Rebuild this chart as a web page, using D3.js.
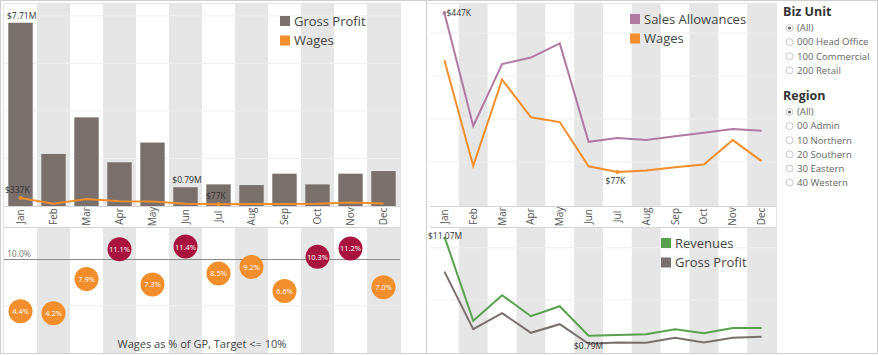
<!DOCTYPE html>
<html><head><meta charset="utf-8">
<script src="https://cdn.jsdelivr.net/npm/d3@7"></script>
<style>
body{margin:0;background:#fff;}
svg{display:block;font-family:"Open Sans",sans-serif;}
</style></head>
<body><svg id="c" width="878" height="355"></svg>
<script>
const months = ["Jan","Feb","Mar","Apr","May","Jun","Jul","Aug","Sep","Oct","Nov","Dec"];
const grossProfit = [7.71, 2.19, 3.73, 1.84, 2.67, 0.79, 0.91, 0.88, 1.36, 0.91, 1.36, 1.47]; // $M
const wages = [337, 91, 292, 204, 193, 90, 77, 80, 88, 94, 151, 102]; // $K
const salesAllowances = [447, 184, 328, 343, 376, 147, 156, 151, 160, 168, 177, 173]; // $K
const revenues = [11.07, 3.0, 5.45, 3.43, 4.39, 1.57, 1.63, 1.70, 2.18, 1.80, 2.31, 2.31]; // $M
const wagesPct = [4.4, 4.2, 7.9, 11.1, 7.3, 11.4, 8.5, 9.2, 6.6, 10.3, 11.2, 7.0];
const bizUnits = ["(All)","000 Head Office","100 Commercial","200 Retail"];
const regions = ["(All)","00 Admin","10 Northern","20 Southern","30 Eastern","40 Western"];

const C = {gp:"#79706e", wages:"#f28e2b", red:"#a9133f", sa:"#b07aa1", rev:"#59a14f", band:"#e6e6e6", grid:"#efefef", text:"#555"};
const svg = d3.select("#c");

// outer border
svg.append("rect").attr("x",0.5).attr("y",0.5).attr("width",877).attr("height",353).attr("fill","none").attr("stroke","#cfcfcf");

function bands(g, x, y0, y1){
  g.selectAll(null).data(months.filter((m,i)=>i%2===1)).enter().append("rect")
   .attr("x",d=>x(d)).attr("width",x.bandwidth()).attr("y",y0).attr("height",y1-y0).attr("fill",C.band);
}
function grid(g, x, y, ticks){
  g.selectAll(null).data(ticks).enter().append("line")
   .attr("x1",x.range()[0]).attr("x2",x.range()[1]).attr("y1",d=>y(d)).attr("y2",d=>y(d))
   .attr("stroke",C.grid).attr("stroke-width",1);
}
function monthAxis(g, x, yTop, yBot){
  g.append("line").attr("x1",x.range()[0]).attr("x2",x.range()[1]).attr("y1",yTop+0.5).attr("y2",yTop+0.5).attr("stroke","#d4d4d4");
  g.append("line").attr("x1",x.range()[0]).attr("x2",x.range()[1]).attr("y1",yBot+0.5).attr("y2",yBot+0.5).attr("stroke","#d4d4d4");
  g.selectAll(null).data(months).enter().append("text")
   .attr("transform",d=>`translate(${x(d)+x.bandwidth()/2+3.5},${(yTop+yBot)/2}) rotate(-90)`)
   .attr("text-anchor","middle").attr("font-size",10).attr("fill",C.text).text(d=>d);
}
function legend(g, x, y, items){
  items.forEach((it,i)=>{
    g.append("rect").attr("x",x).attr("y",y+i*19.5-5).attr("width",10).attr("height",10).attr("fill",it[1]);
    g.append("text").attr("x",x+14).attr("y",y+i*19.5+4.5).attr("font-size",13).attr("fill","#444").text(it[0]);
  });
}
function lbl(g,x,y,t,anchor){
  g.append("text").attr("x",x).attr("y",y).attr("font-size",8.5).attr("fill","#333").attr("text-anchor",anchor||"start").text(t);
}

// ===== LEFT TOP: Gross Profit bars + Wages line =====
const xL = d3.scaleBand().domain(months).range([4,400]).padding(0);
const yL = d3.scaleLinear().domain([0,8.5]).range([206,4]);
const gL = svg.append("g");
bands(gL, xL, 4, 206);
grid(gL, xL, yL, [2,4,6,8]);
const bw = xL.bandwidth()*0.74;
gL.selectAll(null).data(months).enter().append("rect")
  .attr("x",(d)=>xL(d)+(xL.bandwidth()-bw)/2).attr("width",bw)
  .attr("y",(d,i)=>yL(grossProfit[i])).attr("height",(d,i)=>yL(0)-yL(grossProfit[i]))
  .attr("fill",C.gp);
const lineL = d3.line().x((d,i)=>xL(months[i])+xL.bandwidth()/2).y(d=>yL(d/1000));
gL.append("path").datum(wages).attr("d",lineL).attr("fill","none").attr("stroke",C.wages).attr("stroke-width",2);
gL.append("circle").attr("cx",xL("Jan")+xL.bandwidth()/2).attr("cy",yL(wages[0]/1000)).attr("r",2).attr("fill",C.wages);
gL.append("circle").attr("cx",xL("Jul")+xL.bandwidth()/2).attr("cy",yL(wages[6]/1000)).attr("r",2).attr("fill",C.wages);
lbl(gL, xL("Jan")+3, yL(grossProfit[0])-4, "$7.71M");
lbl(gL, xL("Jan")+1, yL(wages[0]/1000)-5, "$337K");
lbl(gL, xL("Jun")+(xL.bandwidth()-bw)/2-1, yL(grossProfit[5])-4, "$0.79M");
lbl(gL, xL("Jul")+4, yL(wages[6]/1000)-5, "$77K");
legend(gL, 280, 21, [["Gross Profit",C.gp],["Wages",C.wages]]);
monthAxis(gL, xL, 206, 227);

// ===== LEFT BOTTOM: Wages as % of GP =====
const yP = d3.scaleLinear().domain([0,13.3]).range([352,229]);
const gP = svg.append("g");
bands(gP, xL, 228, 353);
grid(gP, xL, yP, [5]);
gP.append("line").attr("x1",4).attr("x2",400).attr("y1",yP(10)).attr("y2",yP(10)).attr("stroke","#8a8a8a").attr("stroke-width",1);
gP.append("text").attr("x",7).attr("y",yP(10)-3).attr("font-size",8.5).attr("fill","#777").text("10.0%");
const cg = gP.selectAll(null).data(wagesPct).enter().append("g")
  .attr("transform",(d,i)=>`translate(${xL(months[i])+xL.bandwidth()/2},${yP(d)})`);
cg.append("circle").attr("r",12).attr("fill",d=>d>10?C.red:C.wages);
cg.append("text").attr("text-anchor","middle").attr("dy",3).attr("font-size",7.5).attr("fill","#fff").text(d=>d.toFixed(1)+"%");
gP.append("text").attr("x",202).attr("y",348).attr("text-anchor","middle").attr("font-size",11).attr("fill","#444").text("Wages as % of GP, Target <= 10%");

// panel separators
svg.append("line").attr("x1",400.5).attr("x2",400.5).attr("y1",3).attr("y2",353).attr("stroke","#e4e4e4");
svg.append("line").attr("x1",3.5).attr("x2",3.5).attr("y1",3).attr("y2",353).attr("stroke","#e4e4e4");
svg.append("line").attr("x1",3).attr("x2",400).attr("y1",3.5).attr("y2",3.5).attr("stroke","#e4e4e4");
svg.append("line").attr("x1",426.5).attr("x2",426.5).attr("y1",0).attr("y2",354).attr("stroke","#cfcfcf");

// ===== RIGHT TOP: Sales Allowances + Wages lines =====
const xR = d3.scaleBand().domain(months).range([430,776]).padding(0);
const yR = d3.scaleLinear().domain([0,470]).range([205,3]);
const gR = svg.append("g");
bands(gR, xR, 3, 206);
grid(gR, xR, yR, [100,200,300,400]);
const lineR = d3.line().x((d,i)=>xR(months[i])+xR.bandwidth()/2).y(d=>yR(d));
gR.append("path").datum(salesAllowances).attr("d",lineR).attr("fill","none").attr("stroke",C.sa).attr("stroke-width",2);
gR.append("path").datum(wages).attr("d",lineR).attr("fill","none").attr("stroke",C.wages).attr("stroke-width",2);
gR.append("circle").attr("cx",xR("Jan")+xR.bandwidth()/2).attr("cy",yR(salesAllowances[0])).attr("r",2).attr("fill",C.sa);
gR.append("circle").attr("cx",xR("Jul")+xR.bandwidth()/2).attr("cy",yR(wages[6])).attr("r",2).attr("fill",C.wages);
lbl(gR, xR("Jan")+xR.bandwidth()/2+2, yR(salesAllowances[0])+3, "$447K");
lbl(gR, xR("Jul")+xR.bandwidth()/2-2, yR(wages[6])+12, "$77K","middle");
legend(gR, 630, 19, [["Sales Allowances",C.sa],["Wages",C.wages]]);
monthAxis(gR, xR, 206, 227);

// ===== RIGHT BOTTOM: Revenues + Gross Profit =====
const yB = d3.scaleLinear().domain([0,11.8]).range([352,229]);
const gB = svg.append("g");
bands(gB, xR, 228, 353);
grid(gB, xR, yB, [5,10]);
const lineB = d3.line().x((d,i)=>xR(months[i])+xR.bandwidth()/2).y(d=>yB(d));
gB.append("path").datum(revenues).attr("d",lineB).attr("fill","none").attr("stroke",C.rev).attr("stroke-width",2);
gB.append("path").datum(grossProfit).attr("d",lineB).attr("fill","none").attr("stroke",C.gp).attr("stroke-width",2);
lbl(gB, 428, yB(revenues[0])+2, "$11.07M");
lbl(gB, xR("Jun")+xR.bandwidth()/2, 349, "$0.79M","middle");
legend(gB, 661, 243, [["Revenues",C.rev],["Gross Profit",C.gp]]);
svg.append("line").attr("x1",427).attr("x2",776).attr("y1",3.5).attr("y2",3.5).attr("stroke","#e4e4e4");
svg.append("line").attr("x1",776.5).attr("x2",776.5).attr("y1",3).attr("y2",353).attr("stroke","#e4e4e4");

// ===== FILTER LEGEND =====
const gF = svg.append("g");
function filter(title, items, y0){
  gF.append("text").attr("x",783).attr("y",y0).attr("font-size",12.5).attr("font-weight","bold").attr("fill","#333").text(title);
  items.forEach((t,i)=>{
    const cy = y0+12+i*14.1;
    gF.append("circle").attr("cx",789.5).attr("cy",cy).attr("r",3.5).attr("fill","#fff").attr("stroke","#c8c8c8");
    if(i===0) gF.append("circle").attr("cx",789.5).attr("cy",cy).attr("r",1.6).attr("fill","#666");
    gF.append("text").attr("x",797).attr("y",cy+3.3).attr("font-size",9.6).attr("fill","#666").text(t);
  });
}
filter("Biz Unit", bizUnits, 16);
filter("Region", regions, 100);
</script></body></html>
